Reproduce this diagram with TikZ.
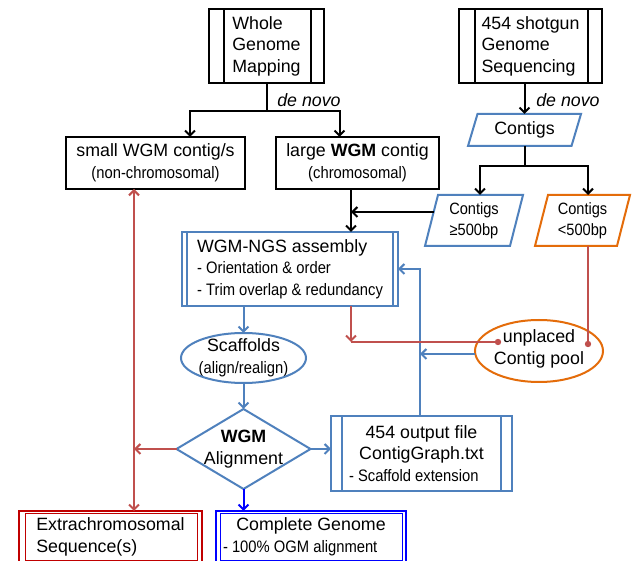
\documentclass[tikz,border=0pt]{standalone}
\usepackage{fontspec}
\setmainfont{Liberation Sans}
\newfontfamily\narrowsans[FakeStretch=0.89]{Liberation Sans}
\usetikzlibrary{arrows.meta,calc}
\definecolor{sblue}{HTML}{4F81BD}
\definecolor{orng}{HTML}{E46C0A}
\definecolor{rline}{HTML}{C0504D}
\definecolor{dred}{HTML}{C00000}
\definecolor{pblue}{HTML}{0000FF}
\newcommand\fA{\fontsize{17.8}{21.5}\selectfont}
\newcommand\fB{\narrowsans\fontsize{16.6}{21.5}\selectfont}
\newcommand\fC{\narrowsans\fontsize{16.4}{21}\selectfont}
\newcommand\procbars[4]{%
  \draw[#4, line width=2pt] ([xshift=#2]#1.north west) -- ([xshift=#2]#1.south west);
  \draw[#4, line width=2pt] ([xshift=-#3]#1.north east) -- ([xshift=-#3]#1.south east);}
\tikzset{
  base/.style={inner sep=0pt, outer sep=0pt, font=\fA},
  blk/.style={base, draw=black, line width=2pt, rectangle},
  bbox/.style={base, draw=sblue, line width=2pt, rectangle},
  tip/.tip={Straight Barb[length=5pt,width=10pt]},
  arr/.style={-tip, line width=2pt},
  conn/.style={line width=2pt},
}
\begin{document}
\begin{tikzpicture}[x=1pt,y=-1pt]
\useasboundingbox (0,0) rectangle (633,561);
\fill[white] (0,0) rectangle (633,561);

% top boxes
\node[blk, minimum width=115pt, minimum height=74pt, align=left] (wgm) at (266.5,46) {Whole\\Genome\\Mapping};
\procbars{wgm}{15pt}{13pt}{black}
\node[blk, minimum width=143pt, minimum height=74pt, align=left] (s454) at (530.5,46) {454 shotgun\\Genome\\Sequencing};
\procbars{s454}{16pt}{14pt}{black}

\node[base, font=\itshape\fA] (dn1) at (309,100) {de novo};
\node[base, font=\itshape\fA] (dn2) at (568,100) {de novo};

\node[blk, minimum width=179pt, minimum height=52pt, align=center] (small) at (155.5,163) {small WGM contig/s\\\fB(non-chromosomal)};
\node[blk, minimum width=163pt, minimum height=52pt, align=center] (large) at (357.5,163) {large \textbf{WGM} contig\\\fB(chromosomal)};

% parallelograms
\node[base, minimum width=113pt, minimum height=32pt] (contigs) at (524.5,130) {Contigs};
\draw[sblue, line width=2pt, line join=miter] (contigs.south west) -- ([xshift=9.5pt]contigs.north west) -- (contigs.north east) -- ([xshift=-9.5pt]contigs.south east) -- cycle;
\node[base, font=\fC, minimum width=98pt, minimum height=51pt, align=center] (c500) at (474,220.5) {Contigs\\≥500bp};
\draw[sblue, line width=2pt, line join=miter] (c500.south west) -- ([xshift=13pt]c500.north west) -- (c500.north east) -- ([xshift=-13pt]c500.south east) -- cycle;
\node[base, font=\fC, minimum width=95pt, minimum height=51pt, align=center] (cs500) at (582.5,220.5) {Contigs\\<500bp};
\draw[orng, line width=2pt, line join=miter] (cs500.south west) -- ([xshift=13pt]cs500.north west) -- (cs500.north east) -- ([xshift=-13pt]cs500.south east) -- cycle;

% WGM-NGS
\node[bbox, minimum width=216pt, minimum height=74pt, align=left] (ngs) at (290,269) {WGM-NGS assembly\\\fB- Orientation \& order\\\fB- Trim overlap \& redundancy};
\procbars{ngs}{5pt}{5pt}{sblue}

% ellipses
\node[base, minimum width=125pt, minimum height=50pt, align=center] (scaf) at (243.5,358) {Scaffolds\\\fB(align/realign)};
\draw[sblue, line width=2pt] (scaf.center) ellipse[x radius=62.5pt, y radius=25pt];
\node[base, minimum width=128pt, minimum height=62pt, align=center] (pool) at (539,349) {unplaced\\Contig pool};
\draw[orng, line width=2pt] ([yshift=-2pt]pool.center) ellipse[x radius=64pt, y radius=31pt];

% diamond
\node[base, minimum width=134pt, minimum height=80pt, align=center] (dia) at (243.5,449) {\textbf{WGM}\\Alignment};
\draw[sblue, line width=2pt, line join=miter] (dia.north) -- (dia.east) -- (dia.south) -- (dia.west) -- cycle;

% 454 output
\node[bbox, minimum width=181pt, minimum height=75pt, align=center] (out) at (421.5,453.5) {454 output file\\ContigGraph.txt\\\fB\makebox[145pt][l]{- Scaffold extension}};
\procbars{out}{11pt}{11pt}{sblue}

% bottom boxes
\node[base, draw=dred, line width=1.6pt, minimum width=183pt, minimum height=52pt, align=left] (extra) at (110.5,537) {Extrachromosomal\\Sequence(s)};
\draw[dred, line width=1pt] ([xshift=6pt,yshift=-2.5pt]extra.north west) rectangle ([xshift=-4.5pt,yshift=2.5pt]extra.south east);
\node[base, draw=pblue, line width=1.6pt, minimum width=190pt, minimum height=52pt, align=center] (comp) at (311,537) {Complete Genome\\\fB\makebox[176pt][l]{- 100\% OGM alignment}};
\draw[pblue, line width=1pt] ([xshift=4pt,yshift=-2.5pt]comp.north west) rectangle ([xshift=-4pt,yshift=2.5pt]comp.south east);

% connectors: black
\draw[conn] (wgm.south) -- ++(0,28) coordinate (wj);
\draw[arr] (wj) -| ([xshift=34.5pt]small.north);
\draw[arr] (wj) -| ([xshift=-18pt]large.north);
\draw[arr] (s454.south -| contigs.north) -- (contigs.north);
\draw[conn] (contigs.south) -- ++(0,20) coordinate (cj);
\draw[arr] (cj) -| ([xshift=6pt]c500.north);
\draw[arr] (cj) -| ([xshift=5.5pt]cs500.north);
\coordinate (lv) at ([xshift=-6.5pt]large.south);
\draw[arr] (lv) -- (lv |- ngs.north);
\coordinate (c5w) at ([xshift=8.7pt,yshift=8.5pt]c500.west);
\draw[arr] (c5w) -- (c5w -| lv);

% blue connectors
\draw[arr, sblue] (scaf.north |- ngs.south) -- (scaf.north);
\coordinate (ov) at ([xshift=-1.5pt]out.north);
\draw[arr, sblue] (ov) |- (ngs.east);
\coordinate (pw) at ([yshift=-5pt]pool.west);
\draw[arr, sblue] (pw) -- (pw -| ov);
\draw[arr, sblue] (scaf.south) -- (dia.north);
\draw[arr, sblue] (dia.east) -- (dia.east -| out.west);
\draw[arr, pblue] (dia.south) -- (dia.south |- comp.north);

% red connectors
\coordinate (d1) at (498,342);
\coordinate (d2) at (588,344);
\coordinate (ns) at ([xshift=61pt]ngs.south);
\draw[arr, rline] (ns) -- (ns |- d1);
\draw[conn, rline] (ns |- d1) -- (d1);
\fill[rline] (d1) circle[radius=3.2pt];
\draw[conn, rline] ([xshift=5.5pt]cs500.south) -- (d2);
\fill[rline] (d2) circle[radius=3.2pt];
\coordinate (rv) at ([xshift=-21.5pt]small.south);
\draw[conn, rline, tip-tip] (rv) -- (rv |- extra.north);
\draw[arr, rline] (dia.west) -- (dia.west -| rv);
\end{tikzpicture}
\end{document}
